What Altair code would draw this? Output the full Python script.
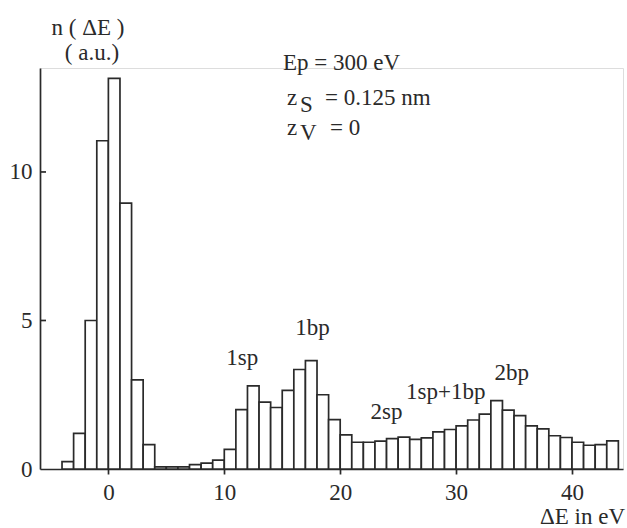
import altair as alt
import pandas as pd

# Histogram bins (1 eV wide): left edges and counts n(ΔE) in arbitrary units
bin_start = list(range(-4, 44))
counts = [0.25, 1.2, 5.0, 11.05, 13.15, 8.95, 3.0, 0.82,
          0.07, 0.07, 0.07, 0.15, 0.2, 0.3, 0.66, 2.0,
          2.8, 2.25, 2.07, 2.65, 3.35, 3.65, 2.5, 1.66,
          1.15, 0.9, 0.9, 0.94, 1.02, 1.07, 1.0, 1.05,
          1.25, 1.33, 1.45, 1.65, 1.85, 2.3, 1.98, 1.8,
          1.45, 1.35, 1.12, 1.06, 0.9, 0.8, 0.82, 0.95]

x_ticks = [0, 10, 20, 30, 40]
y_ticks = [0, 5, 10]

peak_names = ["1sp", "1bp", "2sp", "1sp+1bp", "2bp"]
peak_x = [11.55, 17.6, 24.0, 29.1, 34.8]
peak_y = [3.5, 4.5, 1.7, 2.35, 3.0]

FONT = "Liberation Serif"
INK = "#2a2a2a"
FS = 23

df = pd.DataFrame({"start": bin_start, "end": [b + 1 for b in bin_start], "n": counts})
xs = alt.Scale(domain=[-5.9, 44.4], nice=False, zero=False)
ys = alt.Scale(domain=[0, 13.5], nice=False)

bars = alt.Chart(df).mark_bar(fill="white", stroke=INK, strokeWidth=1.7).encode(
    x=alt.X("start:Q", scale=xs,
            axis=alt.Axis(values=x_ticks, grid=False, title=None, domainColor=INK,
                          domainWidth=1.7, tickColor=INK, tickWidth=1.7, tickSize=5,
                          labelFont=FONT, labelFontSize=FS, labelColor=INK,
                          labelPadding=7, labelFlush=False)),
    x2="end:Q",
    y=alt.Y("n:Q", scale=ys,
            axis=alt.Axis(values=y_ticks, grid=False, title=None, ticks=False,
                          domainColor=INK, domainWidth=1.7, labelFont=FONT,
                          labelFontSize=FS, labelColor=INK, labelPadding=8)),
    y2=alt.datum(0),
)

ytick_df = pd.DataFrame({"t": [5, 10]})
yticks_in = alt.Chart(ytick_df).mark_rule(color=INK, strokeWidth=1.7).encode(
    y=alt.Y("t:Q", scale=ys), x=alt.value(0), x2=alt.value(6)
)

lab_df = pd.DataFrame({"name": peak_names, "x": peak_x, "y": peak_y})
peak_text = alt.Chart(lab_df).mark_text(font=FONT, fontSize=FS, color=INK,
                                        align="center", baseline="alphabetic").encode(
    x=alt.X("x:Q", scale=xs), y=alt.Y("y:Q", scale=ys), text="name:N"
)


def txt(s, x, y, align="left", size=FS):
    return alt.Chart(pd.DataFrame({"s": [s]})).mark_text(
        font=FONT, fontSize=size, color=INK, align=align, baseline="alphabetic"
    ).encode(x=alt.value(x), y=alt.value(y), text="s:N")


texts = [
    txt("n ( ΔE )", 48, -33, "center"),
    txt("( a.u.)", 52, -8, "center"),
    txt("Ep = 300 eV", 243, 2),
    txt("z", 247, 37),
    txt("S", 260, 44),
    txt("= 0.125 nm", 285, 37),
    txt("z", 247, 67),
    txt("V", 260, 72),
    txt("= 0", 290, 67),
    txt("ΔE in eV", 585, 456, "right"),
]

chart = alt.layer(bars, yticks_in, peak_text, *texts).properties(
    width=583, height=401,
    autosize=alt.AutoSizeParams(type="none"),
    padding={"left": 40, "top": 68, "right": 4, "bottom": 59},
    background="white",
).configure_view(stroke=None).configure(font=FONT)

chart.save("out.html", embed_options={"renderer": "svg", "actions": False})
